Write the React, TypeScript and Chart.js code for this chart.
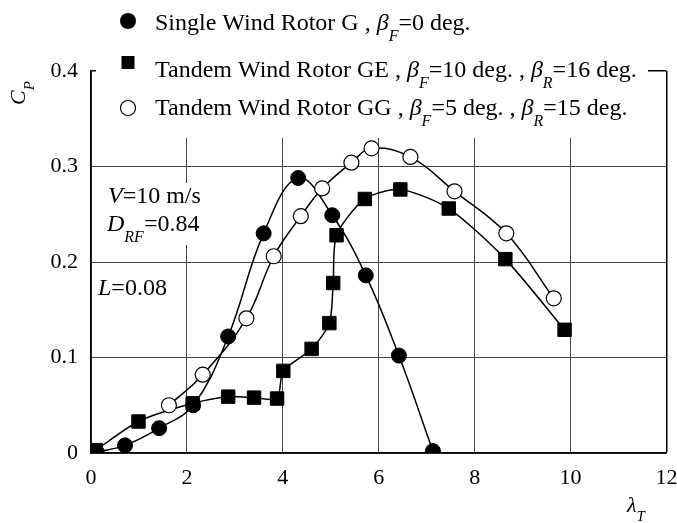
import React, { useEffect, useRef } from 'react';
import { Chart, registerables } from 'chart.js';

Chart.register(...registerables);

// ---- data ----
const singleG_x = [0.12, 0.71, 1.42, 2.13, 2.86, 3.6, 4.32, 5.03, 5.73, 6.42, 7.13];
const singleG_y = [0.001, 0.008, 0.026, 0.05, 0.122, 0.23, 0.288, 0.249, 0.186, 0.102, 0.002];

const tandemGE_x = [0.1, 0.99, 2.12, 2.86, 3.4, 3.88, 4.01, 4.6, 4.97, 5.05, 5.12, 5.71, 6.45, 7.46, 8.64, 9.875];
const tandemGE_y = [0.003, 0.033, 0.052, 0.059, 0.058, 0.057, 0.086, 0.109, 0.136, 0.178, 0.228, 0.266, 0.276, 0.256, 0.203, 0.129];

const tandemGG_x = [1.625, 2.33, 3.24, 3.81, 4.375, 4.82, 5.43, 5.85, 6.66, 7.58, 8.66, 9.65];
const tandemGG_y = [0.05, 0.082, 0.141, 0.206, 0.248, 0.277, 0.304, 0.319, 0.31, 0.274, 0.23, 0.162];

const xTickValues = [0, 2, 4, 6, 8, 10, 12];
const xTickLabels = ['0', '2', '4', '6', '8', '10', '12'];
const yTickValues = [0, 0.1, 0.2, 0.3, 0.4];
const yTickLabels = ['0', '0.1', '0.2', '0.3', '0.4'];

type Seg = [string, 'n' | 'i' | 's'];
const legendG: Seg[] = [['Single Wind Rotor G , ', 'n'], ['β', 'i'], ['F', 's'], ['=0 deg.', 'n']];
const legendGE: Seg[] = [['Tandem Wind Rotor GE , ', 'n'], ['β', 'i'], ['F', 's'], ['=10 deg. , ', 'n'], ['β', 'i'], ['R', 's'], ['=16 deg.', 'n']];
const legendGG: Seg[] = [['Tandem Wind Rotor GG , ', 'n'], ['β', 'i'], ['F', 's'], ['=5 deg. , ', 'n'], ['β', 'i'], ['R', 's'], ['=15 deg.', 'n']];
const noteV: Seg[] = [['V', 'i'], ['=10 m/s', 'n']];
const noteD: Seg[] = [['D', 'i'], ['RF', 's'], ['=0.84', 'n']];
const noteL: Seg[] = [['L', 'i'], ['=0.08', 'n']];
const axisY: Seg[] = [['C', 'i'], ['P', 's']];
const axisX: Seg[] = [['λ', 'i'], ['T', 's']];

const FONT = "'Liberation Serif', 'Times New Roman', serif";

function drawRich(ctx: CanvasRenderingContext2D, x: number, y: number, segs: Seg[], size = 24, sub = 16, subDy = 11) {
  let cx = x;
  ctx.fillStyle = '#000';
  ctx.textAlign = 'left';
  ctx.textBaseline = 'alphabetic';
  for (const [t, st] of segs) {
    const fs = st === 's' ? sub : size;
    ctx.font = `${st !== 'n' ? 'italic ' : ''}${fs}px ${FONT}`;
    const dy = st === 's' ? subDy : 0;
    ctx.fillText(t, cx, y + dy);
    cx += ctx.measureText(t).width;
  }
}

const zip = (xs: number[], ys: number[]) => xs.map((x, i) => ({ x, y: ys[i] }));

const overlayPlugin = {
  id: 'overlay',
  beforeDatasetsDraw(chart: any) {
    const ctx: CanvasRenderingContext2D = chart.ctx;
    ctx.save();
    ctx.fillStyle = '#fff';
    ctx.fillRect(96, 0, 552, 138);
    ctx.fillRect(103, 183, 102, 62);
    // legend markers
    ctx.fillStyle = '#000';
    ctx.strokeStyle = '#000';
    ctx.lineWidth = 1.2;
    ctx.beginPath();
    ctx.arc(128, 21, 8, 0, Math.PI * 2);
    ctx.fill();
    ctx.fillRect(121.5, 56, 13, 13);
    ctx.beginPath();
    ctx.arc(128, 108, 7.5, 0, Math.PI * 2);
    ctx.fillStyle = '#fff';
    ctx.fill();
    ctx.stroke();
    drawRich(ctx, 155, 30, legendG);
    drawRich(ctx, 155, 77, legendGE);
    drawRich(ctx, 155, 115, legendGG);
    drawRich(ctx, 108, 203, noteV);
    drawRich(ctx, 107, 231, noteD);
    drawRich(ctx, 98, 295, noteL);
    drawRich(ctx, 627, 512, axisX, 22, 15, 9);
    ctx.translate(25, 105);
    ctx.rotate(-Math.PI / 2);
    drawRich(ctx, 0, 0, axisY, 22, 15, 9);
    ctx.restore();
  },
};

export default function App() {
  const ref = useRef<HTMLCanvasElement>(null);
  useEffect(() => {
    if (!ref.current) return;
    const gridColor = (v: number, edge: number) => (Math.abs(v - edge) < 1e-9 ? '#000' : '#444');
    const gridWidth = (v: number, edge: number) => (Math.abs(v - edge) < 1e-9 ? 1.5 : 1);
    const chart = new Chart(ref.current, {
      type: 'line',
      data: {
        datasets: [
          {
            label: 'GG',
            data: zip(tandemGG_x, tandemGG_y),
            borderColor: '#000',
            borderWidth: 1.5,
            tension: 0.4,
            pointStyle: 'circle',
            pointRadius: 7.5,
            pointBackgroundColor: '#fff',
            pointBorderColor: '#000',
            pointBorderWidth: 1.2,
            fill: false,
          },
          {
            label: 'GE',
            data: zip(tandemGE_x, tandemGE_y),
            borderColor: '#000',
            borderWidth: 1.5,
            tension: 0.25,
            pointStyle: 'rect',
            pointRadius: 9.5,
            pointBackgroundColor: '#000',
            pointBorderColor: '#000',
            pointBorderWidth: 1,
            fill: false,
          },
          {
            label: 'G',
            data: zip(singleG_x, singleG_y),
            borderColor: '#000',
            borderWidth: 1.5,
            tension: 0.4,
            pointStyle: 'circle',
            pointRadius: 7.5,
            pointBackgroundColor: '#000',
            pointBorderColor: '#000',
            pointBorderWidth: 1,
            fill: false,
          },
        ],
      },
      options: {
        responsive: false,
        animation: false,
        devicePixelRatio: 1,
        layout: { padding: { left: 0, right: 9, top: 71, bottom: 0 } },
        plugins: { legend: { display: false }, tooltip: { enabled: false } },
        scales: {
          x: {
            type: 'linear',
            min: 0,
            max: 12,
            afterBuildTicks: (s: any) => {
              s.ticks = xTickValues.map((v) => ({ value: v }));
            },
            afterFit: (s: any) => {
              s.height = 70;
              s.paddingLeft = 0;
              s.paddingRight = 0;
            },
            ticks: {
              color: '#000',
              font: { family: FONT, size: 22 },
              padding: 12,
              maxRotation: 0,
              callback: (v: any) => xTickLabels[xTickValues.indexOf(Number(v))] ?? '',
            },
            grid: {
              drawTicks: false,
              color: (c: any) => gridColor(c.tick ? c.tick.value : 0, 12),
              lineWidth: (c: any) => gridWidth(c.tick ? c.tick.value : 0, 12),
            },
            border: { display: true, color: '#000', width: 1.5 },
          },
          y: {
            type: 'linear',
            min: 0,
            max: 0.4,
            afterBuildTicks: (s: any) => {
              s.ticks = yTickValues.map((v) => ({ value: v }));
            },
            afterFit: (s: any) => {
              s.width = 91;
              s.paddingTop = 0;
              s.paddingBottom = 0;
            },
            ticks: {
              color: '#000',
              font: { family: FONT, size: 22 },
              padding: 13,
              callback: (v: any) => {
                const i = yTickValues.findIndex((t) => Math.abs(t - Number(v)) < 1e-9);
                return i >= 0 ? yTickLabels[i] : '';
              },
            },
            grid: {
              drawTicks: false,
              color: (c: any) => gridColor(c.tick ? c.tick.value : 0, 0.4),
              lineWidth: (c: any) => gridWidth(c.tick ? c.tick.value : 0, 0.4),
            },
            border: { display: true, color: '#000', width: 1.5 },
          },
        },
      },
      plugins: [overlayPlugin],
    } as any);
    return () => chart.destroy();
  }, []);
  return (
    <div style={{ position: 'absolute', left: 0, top: 0, width: 677, height: 523, background: '#fff' }}>
      <canvas ref={ref} width={677} height={523} style={{ display: 'block' }} />
    </div>
  );
}
